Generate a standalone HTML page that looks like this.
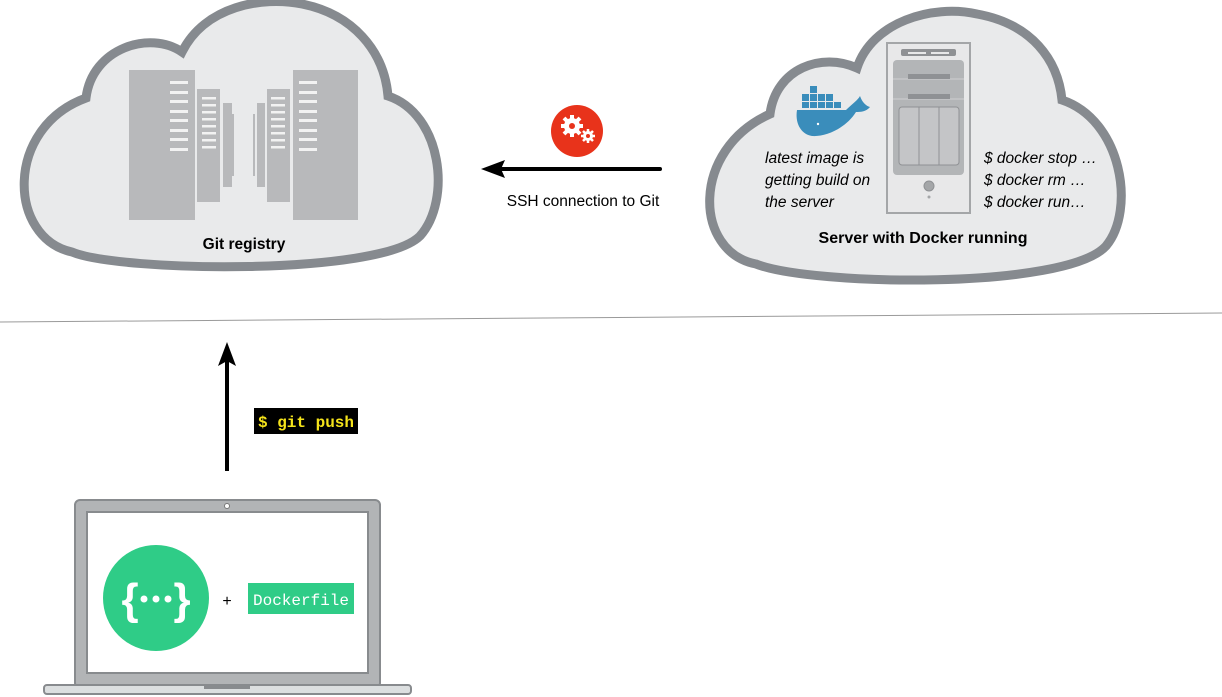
<!DOCTYPE html>
<html><head><meta charset="utf-8"><style>
html,body{margin:0;padding:0;background:#fff;width:1222px;height:697px;overflow:hidden}
svg{display:block}
text{font-family:"Liberation Sans",Arial,sans-serif}
.mono{font-family:"Liberation Mono","DejaVu Sans Mono",monospace}
</style></head><body>
<svg width="1222" height="697" viewBox="0 0 1222 697" xmlns="http://www.w3.org/2000/svg">
<!-- left cloud -->
<path d="M 72,252 C 8,238 4,128 86,98 C 92,48 150,30 182,52 C 205,6 262,-4 302,4 C 352,14 384,50 388,96 C 442,114 452,200 420,236 C 380,276 120,272 72,252 Z" fill="#e9eaeb" stroke="#868a8f" stroke-width="9"/>
<g fill="#b8b9bb">
<rect x="129" y="70" width="66" height="150"/>
<rect x="197" y="89" width="23" height="113"/>
<rect x="223" y="103" width="9" height="84"/>
<rect x="232" y="114" width="2" height="62"/>
<rect x="293" y="70" width="65" height="150"/>
<rect x="267" y="89" width="23" height="113"/>
<rect x="257" y="103" width="8" height="84"/>
<rect x="253" y="114" width="2" height="62"/>
</g>
<g fill="#f2f2f2">
<rect x="170" y="81" width="18" height="3"/><rect x="170" y="91" width="18" height="3"/><rect x="170" y="100" width="18" height="3"/><rect x="170" y="110" width="18" height="3"/><rect x="170" y="119" width="18" height="3"/><rect x="170" y="129" width="18" height="3"/><rect x="170" y="138" width="18" height="3"/><rect x="170" y="148" width="18" height="3"/>
<rect x="299" y="81" width="18" height="3"/><rect x="299" y="91" width="18" height="3"/><rect x="299" y="100" width="18" height="3"/><rect x="299" y="110" width="18" height="3"/><rect x="299" y="119" width="18" height="3"/><rect x="299" y="129" width="18" height="3"/><rect x="299" y="138" width="18" height="3"/><rect x="299" y="148" width="18" height="3"/>
<rect x="202" y="97" width="14" height="2.5"/><rect x="202" y="104" width="14" height="2.5"/><rect x="202" y="111" width="14" height="2.5"/><rect x="202" y="118" width="14" height="2.5"/><rect x="202" y="125" width="14" height="2.5"/><rect x="202" y="132" width="14" height="2.5"/><rect x="202" y="139" width="14" height="2.5"/><rect x="202" y="146" width="14" height="2.5"/>
<rect x="271" y="97" width="14" height="2.5"/><rect x="271" y="104" width="14" height="2.5"/><rect x="271" y="111" width="14" height="2.5"/><rect x="271" y="118" width="14" height="2.5"/><rect x="271" y="125" width="14" height="2.5"/><rect x="271" y="132" width="14" height="2.5"/><rect x="271" y="139" width="14" height="2.5"/><rect x="271" y="146" width="14" height="2.5"/>
</g>
<text x="244" y="249" font-size="15.5" font-weight="bold" text-anchor="middle">Git registry</text>

<!-- right cloud -->
<path d="M 756,264 C 694,252 690,150 770,114 C 776,68 822,52 857,68 C 872,22 932,4 977,14 C 1032,24 1058,60 1062,100 C 1122,120 1136,210 1106,246 C 1066,290 812,286 756,264 Z" fill="#e9eaeb" stroke="#868a8f" stroke-width="9"/>
<rect x="887" y="43" width="83" height="170" fill="#e8e8e9" stroke="#a4a6a8" stroke-width="2"/>
<rect x="901" y="49" width="55" height="7" rx="2" fill="#8f9194"/>
<rect x="908" y="52" width="18" height="2" fill="#e8e8e9"/><rect x="931" y="52" width="18" height="2" fill="#e8e8e9"/>
<rect x="893" y="60" width="71" height="115" rx="4" fill="#b3b5b7"/>
<line x1="893" y1="79" x2="964" y2="79" stroke="#cfd0d1" stroke-width="1"/>
<line x1="893" y1="99" x2="964" y2="99" stroke="#cfd0d1" stroke-width="1"/>
<rect x="908" y="74" width="42" height="5" fill="#8f9194"/>
<rect x="908" y="94" width="42" height="5" fill="#8f9194"/>
<rect x="899" y="107" width="60" height="58" rx="3" fill="#c4c5c7" stroke="#8f9194" stroke-width="1"/>
<line x1="919" y1="107" x2="919" y2="165" stroke="#8f9194"/><line x1="939" y1="107" x2="939" y2="165" stroke="#8f9194"/>
<circle cx="929" cy="186" r="5" fill="#a4a6a8" stroke="#8f9194"/>
<circle cx="929" cy="197" r="1.5" fill="#a4a6a8"/>
<!-- whale -->
<g fill="#3a8dbb">
<rect x="810" y="86" width="7" height="7"/>
<rect x="802" y="94" width="7" height="7"/><rect x="810" y="94" width="7" height="7"/><rect x="818" y="94" width="7" height="7"/>
<rect x="826" y="94" width="7" height="7"/>
<rect x="802" y="102" width="7" height="6"/><rect x="810" y="102" width="7" height="6"/><rect x="818" y="102" width="7" height="6"/><rect x="826" y="102" width="7" height="6"/><rect x="834" y="102" width="7" height="6"/>
<path d="M797,110 L846,110 C852,104 858,100 860,96 C862,102 866,106 870,107 C866,112 860,112 856,112 C846,128 826,137 812,136 C800,134 795,122 797,110 Z"/>
</g>
<circle cx="818" cy="124" r="1.2" fill="#fff"/>
<g font-size="15.5" font-style="italic" fill="#000">
<text x="765" y="163">latest image is</text>
<text x="765" y="185">getting build on</text>
<text x="765" y="207">the server</text>
<text x="984" y="163">$ docker stop …</text>
<text x="984" y="185">$ docker rm …</text>
<text x="984" y="207">$ docker run…</text>
</g>
<text x="923" y="243" font-size="16" font-weight="bold" text-anchor="middle">Server with Docker running</text>

<!-- SSH arrow -->
<circle cx="577" cy="131" r="26" fill="#e8331b"/>
<g fill="#fff">
<circle cx="572" cy="126" r="8"/>
<g stroke="#fff" stroke-width="4"><line x1="572" y1="115" x2="572" y2="137"/><line x1="561" y1="126" x2="583" y2="126"/><line x1="564" y1="118" x2="580" y2="134"/><line x1="580" y1="118" x2="564" y2="134"/></g>
<circle cx="588" cy="136" r="5"/>
<g stroke="#fff" stroke-width="2.5"><line x1="588" y1="129" x2="588" y2="143"/><line x1="581" y1="136" x2="595" y2="136"/><line x1="583" y1="131" x2="593" y2="141"/><line x1="593" y1="131" x2="583" y2="141"/></g>
</g>
<circle cx="572" cy="126" r="3" fill="#e8331b"/>
<circle cx="588" cy="136" r="2" fill="#e8331b"/>
<line x1="500" y1="169" x2="660" y2="169" stroke="#000" stroke-width="4" stroke-linecap="round"/>
<path d="M481,169 L505,160 L501,169 L505,178 Z" fill="#000"/>
<text x="583" y="206" font-size="15.5" text-anchor="middle">SSH connection to Git</text>

<!-- divider -->
<line x1="0" y1="322" x2="1222" y2="313" stroke="#9a9a9a" stroke-width="1"/>

<!-- git push arrow -->
<line x1="227" y1="360" x2="227" y2="471" stroke="#000" stroke-width="4"/>
<path d="M227,342 L218,366 L227,361 L236,366 Z" fill="#000"/>
<rect x="254" y="408" width="104" height="26" fill="#000"/>
<text x="306" y="427" class="mono" font-size="16" font-weight="bold" fill="#f5e31b" text-anchor="middle">$ git push</text>

<!-- laptop -->
<rect x="75" y="500" width="305" height="188" rx="5" fill="#b2b4b6" stroke="#888b8e" stroke-width="2"/>
<rect x="87" y="512" width="281" height="161" fill="#fff" stroke="#888b8e" stroke-width="2"/>
<circle cx="227" cy="506" r="2.5" fill="#fff" stroke="#777" stroke-width="1"/>
<rect x="44" y="685" width="367" height="9" rx="3" fill="#dcdfe0" stroke="#888b8e" stroke-width="2"/>
<rect x="204" y="686" width="46" height="3" fill="#888b8e"/>
<circle cx="156" cy="598" r="53" fill="#2fcc87"/>
<text x="130" y="614" font-size="44" font-weight="bold" fill="#fff" text-anchor="middle">{</text>
<text x="182" y="614" font-size="44" font-weight="bold" fill="#fff" text-anchor="middle">}</text>
<circle cx="144" cy="599" r="3.5" fill="#fff"/><circle cx="156" cy="599" r="3.5" fill="#fff"/><circle cx="168" cy="599" r="3.5" fill="#fff"/>
<text x="227" y="606" font-size="16" text-anchor="middle">+</text>
<rect x="248" y="583" width="106" height="31" fill="#2fcc87"/>
<text x="301" y="605" class="mono" font-size="16" fill="#fff" text-anchor="middle">Dockerfile</text>
</svg>
</body></html>
